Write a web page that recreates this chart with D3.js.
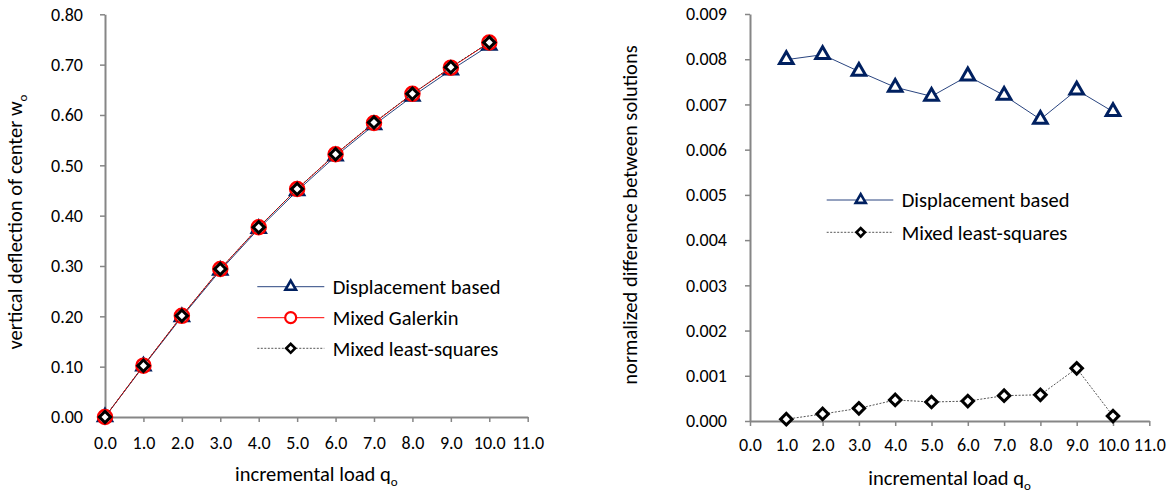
<!DOCTYPE html>
<html>
<head>
<meta charset="utf-8">
<script src="https://cdn.jsdelivr.net/npm/d3@7"></script>
<style>
  body { margin: 0; background: #fff; }
  svg text { font-family: Carlito, Calibri, Lato, sans-serif; fill: #000; }
</style>
</head>
<body>
<div id="chart"></div>
<script>
// data
const loads = [0, 1, 2, 3, 4, 5, 6, 7, 8, 9, 10];
const dispBased = [0, 0.101, 0.199, 0.291, 0.374, 0.449, 0.518, 0.580, 0.637, 0.689, 0.738];
const mixedGalerkin = [0, 0.102, 0.201, 0.294, 0.377, 0.453, 0.522, 0.584, 0.642, 0.694, 0.744];
const mixedLS = [0, 0.102, 0.201, 0.294, 0.377, 0.453, 0.522, 0.585, 0.642, 0.695, 0.744];

const diffLoads = [1, 2, 3, 4, 5, 6, 7, 8, 9, 10];
const diffDisp = [0.00799, 0.00810, 0.00773, 0.00738, 0.00718, 0.00763, 0.00720, 0.00667, 0.00732, 0.00684];
const diffLS = [0.00004, 0.000155, 0.00028, 0.000465, 0.00042, 0.00044, 0.00056, 0.00058, 0.001165, 0.00011];

const xTicks = d3.range(0, 12, 1);
const leftYTicks = d3.range(0, 0.81, 0.1);
const rightYTicks = d3.range(0, 0.0091, 0.001);

const navy = "#002060", navyLine = "#2a4580", red = "#ff0000", axisGray = "#868686";
const tickFont = 18, labelFont = 20.5;

const svg = d3.select("#chart").append("svg")
  .attr("width", 1170)
  .attr("height", 493);

function drawAxes(g, x, y, yFmt, yTicks, xPad, yPad) {
  const xAxis = d3.axisBottom(x).tickValues(xTicks).tickFormat(d3.format(".1f"))
    .tickSize(5).tickSizeOuter(0).tickPadding(xPad);
  const yAxis = d3.axisLeft(y).tickValues(yTicks).tickFormat(d3.format(yFmt))
    .tickSize(5).tickSizeOuter(0).tickPadding(yPad);

  const gx = g.append("g")
    .attr("transform", `translate(0,${y.range()[0]})`)
    .call(xAxis);
  const gy = g.append("g")
    .attr("transform", `translate(${x.range()[0]},0)`)
    .call(yAxis);
  [gx, gy].forEach(a => {
    a.select(".domain").attr("stroke", axisGray).attr("stroke-width", 2);
    a.selectAll(".tick line").attr("stroke", axisGray).attr("stroke-width", 1.5);
    a.selectAll(".tick text").attr("font-size", tickFont).attr("fill", "#000")
      .style("font-family", "Carlito, Calibri, Lato, sans-serif");
  });
}

function triangle(size) { return d3.symbol().type(d3.symbolTriangle).size(size)(); }
function square(size) { return d3.symbol().type(d3.symbolSquare).size(size)(); }

function series(g, x, y, xs, ys, opt) {
  const pts = xs.map((d, i) => [x(d), y(ys[i])]);
  g.append("path")
    .attr("d", d3.line()(pts))
    .attr("fill", "none")
    .attr("stroke", opt.line)
    .attr("stroke-width", opt.lw || 1)
    .attr("stroke-dasharray", opt.dash || null);
  markers(g, pts, opt);
}

function markers(g, pts, opt) {
  pts.forEach(p => {
    if (opt.shape === "tri") {
      g.append("path").attr("d", triangle(opt.size))
        .attr("transform", `translate(${p[0]},${p[1]})`)
        .attr("fill", "#fff").attr("stroke", navy).attr("stroke-width", opt.sw);
    } else if (opt.shape === "circle") {
      g.append("circle").attr("cx", p[0]).attr("cy", p[1]).attr("r", opt.size)
        .attr("fill", "#fff").attr("stroke", red).attr("stroke-width", opt.sw);
    } else {
      g.append("path").attr("d", square(opt.size))
        .attr("transform", `translate(${p[0]},${p[1]}) rotate(45)`)
        .attr("fill", "#fff").attr("stroke", "#000").attr("stroke-width", opt.sw);
    }
  });
}

function legend(g, x0, x1, xm, xt, rows) {
  rows.forEach(r => {
    g.append("line").attr("x1", x0).attr("x2", x1).attr("y1", r.y).attr("y2", r.y)
      .attr("stroke", r.opt.line).attr("stroke-width", 1)
      .attr("stroke-dasharray", r.opt.dash || null);
    markers(g, [[xm, r.y]], r.opt);
    g.append("text").attr("x", xt).attr("y", r.y).attr("dy", "0.36em")
      .attr("font-size", labelFont).text(r.label);
  });
}

function axisTitle(g, text, sub, attrs) {
  const t = g.append("text").attr("font-size", labelFont).attr("text-anchor", "middle");
  Object.keys(attrs).forEach(k => t.attr(k, attrs[k]));
  t.append("tspan").text(text);
  if (sub) t.append("tspan").attr("font-size", 13).attr("dy", 5).text(sub);
  return t;
}

// ---------- left panel ----------
const gl = svg.append("g");
const xl = d3.scaleLinear().domain([0, 11]).range([105, 527.7]);
const yl = d3.scaleLinear().domain([0, 0.8]).range([417, 14.3]);
drawAxes(gl, xl, yl, ".2f", leftYTicks, 14.5, 17);

series(gl, xl, yl, loads, dispBased, { line: navyLine, shape: "tri", size: 80, sw: 2.8 });
series(gl, xl, yl, loads, mixedGalerkin, { line: red, shape: "circle", size: 7, sw: 2.5 });
series(gl, xl, yl, loads, mixedLS, { line: "#333", dash: "2,1.5", shape: "dia", size: 64, sw: 3 });

legend(gl, 257.3, 324.3, 290.7, 332.7, [
  { y: 286.7, label: "Displacement based", opt: { line: navyLine, shape: "tri", size: 48, sw: 2.6 } },
  { y: 317.7, label: "Mixed Galerkin", opt: { line: red, shape: "circle", size: 5.5, sw: 2.2 } },
  { y: 348.3, label: "Mixed least-squares", opt: { line: "#555", dash: "2,1.5", shape: "dia", size: 40, sw: 2.6 } }
]);

axisTitle(gl, "incremental load q", "o", { x: 316.3, y: 480.7 });
axisTitle(gl, "vertical deflection of center w", "o", { transform: "translate(21.7,222) rotate(-90)" });

// ---------- right panel ----------
const gr = svg.append("g");
const xr = d3.scaleLinear().domain([0, 11]).range([750, 1149.3]);
const yr = d3.scaleLinear().domain([0, 0.009]).range([421, 14]);
drawAxes(gr, xr, yr, ".3f", rightYTicks, 12.5, 18);

series(gr, xr, yr, diffLoads, diffDisp, { line: navyLine, shape: "tri", size: 80, sw: 3 });
series(gr, xr, yr, diffLoads, diffLS, { line: "#555", dash: "2,1.5", shape: "dia", size: 66, sw: 3 });

legend(gr, 826.7, 893.3, 860.7, 901.7, [
  { y: 200, label: "Displacement based", opt: { line: navyLine, shape: "tri", size: 44, sw: 2.6 } },
  { y: 232.3, label: "Mixed least-squares", opt: { line: "#555", dash: "2,1.5", shape: "dia", size: 36, sw: 2.6 } }
]);

axisTitle(gr, "incremental load q", "o", { x: 949.6, y: 485 });
axisTitle(gr, "normalized difference between solutions", null, { transform: "translate(637,215) rotate(-90)" });
</script>
</body>
</html>
